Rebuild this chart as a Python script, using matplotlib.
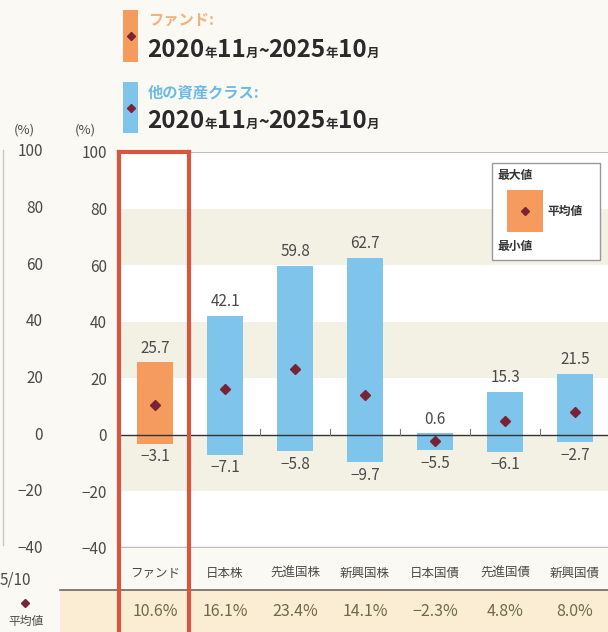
import matplotlib
matplotlib.use('Agg')
import matplotlib.pyplot as plt
import matplotlib.patches as mpatches
from matplotlib.lines import Line2D

plt.rcParams['font.family'] = ['Noto Sans CJK JP', 'DejaVu Sans']

categories = ['ファンド', '日本株', '先進国株', '新興国株', '日本国債', '先進国債', '新興国債']
max_vals   = [25.7, 42.1, 59.8, 62.7, 0.6, 15.3, 21.5]
min_vals   = [-3.1, -7.1, -5.8, -9.7, -5.5, -6.1, -2.7]
mean_vals  = [10.6, 16.1, 23.4, 14.1, -2.3, 4.8, 8.0]
yticks     = [100, 80, 60, 40, 20, 0, -20, -40]

BG     = '#fbf9f3'
BAND   = '#f3f0e4'
ORANGE = '#f59b5e'
BLUE   = '#7fc4ea'
DIAM   = '#7a2236'
RED    = '#d8553f'
TXT    = '#4a4a4a'
W, H = 608, 632

def fx(x): return x / W
def fy(y): return 1 - y / H

fig = plt.figure(figsize=(6.08, 6.32), dpi=100, facecolor=BG)
ax = fig.add_axes([fx(118), fy(548), fx(608) - fx(118), fy(152) - fy(548)])
ax.set_facecolor('white')
ax.set_xlim(-0.53, 6.47)
ax.set_ylim(-40, 100)

# alternating bands
for lo in (60, 20, -20):
    ax.axhspan(lo, lo + 20, color=BAND, lw=0, zorder=0)

x = list(range(len(categories)))
colors = [ORANGE] + [BLUE] * (len(categories) - 1)
heights = [mx - mn for mx, mn in zip(max_vals, min_vals)]
ax.bar(x, heights, bottom=min_vals, width=0.52, color=colors, lw=0, zorder=2)
ax.plot(x, mean_vals, ls='none', marker='D', ms=5, color=DIAM, zorder=4)

for xi, mx, mn in zip(x, max_vals, min_vals):
    ax.text(xi, mx + 2, f'{mx:.1f}', ha='center', va='bottom', fontsize=11, color=TXT, zorder=5)
    ax.text(xi, mn - 1.5, f'{mn:.1f}'.replace('-', '−'), ha='center', va='top', fontsize=11, color=TXT, zorder=5)

ax.axhline(0, color='#333333', lw=1, zorder=3)
ax.axhline(-40, color='#bdbdbd', lw=2.5, zorder=3)
ax.axhline(100, color='#bdbdbd', lw=1.5, zorder=3)
for xi in x[1:-1]:
    ax.plot([xi + 0.5, xi + 0.5], [0, 2], color='#777777', lw=0.8, zorder=3)

for s in ax.spines.values():
    s.set_visible(False)
ax.set_xticks([])
ax.set_yticks(yticks)
ax.set_yticklabels([str(t).replace('-', '−') for t in yticks], fontsize=11, color=TXT)
ax.tick_params(axis='y', length=0, pad=8)

# left partial axis (cropped)
for t in yticks:
    fig.text(fx(43), fy(152 + (100 - t) * 2.83), str(t).replace('-', '−'),
             ha='right', va='center', fontsize=11, color=TXT)
fig.text(fx(24), fy(130), '(%)', ha='center', va='center', fontsize=9.5, color=TXT)
fig.text(fx(85), fy(130), '(%)', ha='center', va='center', fontsize=9.5, color=TXT)
fig.add_artist(Line2D([fx(3), fx(3)], [fy(150), fy(545)], color='#c8c8c8', lw=1))
fig.text(fx(0), fy(580), '5/10', ha='left', va='center', fontsize=11, color=TXT)

# category labels and bottom table
cat_px = [155 + 70 * i for i in x]
for cx, c in zip(cat_px, categories):
    fig.text(fx(cx), fy(573), c, ha='center', va='center', fontsize=9, color=TXT)
fig.add_artist(mpatches.Rectangle((fx(60), 0), 1 - fx(60), fy(590), color='#fbedd3', lw=0))
fig.add_artist(Line2D([fx(60), 1], [fy(590), fy(590)], color='#6a6a6a', lw=1.2))
fig.add_artist(Line2D([fx(25)], [fy(603)], marker='D', ms=4, color=DIAM, ls='none'))
fig.text(fx(26), fy(621), '平均値', ha='center', va='center', fontsize=8.5, color=TXT)
for cx, m in zip(cat_px, mean_vals):
    fig.text(fx(cx), fy(612), f'{m:.1f}%'.replace('-', '−'), ha='center', va='center',
             fontsize=11.5, color='#6b6a48')

# red highlight box around fund column
rx0, rx1 = fx(119), fx(189)
for xx in (rx0, rx1):
    fig.add_artist(Line2D([xx, xx], [0, fy(152)], color=RED, lw=3, zorder=10))
fig.add_artist(Line2D([rx0, rx1], [fy(152), fy(152)], color=RED, lw=3, zorder=10))

# top legend
def seq_text(x0, y0, parts):
    r = fig.canvas.get_renderer()
    xpos = x0
    for s, size in parts:
        t = fig.text(fx(xpos), fy(y0), s, ha='left', va='baseline', fontsize=size,
                     fontweight='bold', color='#2a2a2a')
        bb = t.get_window_extent(renderer=r)
        xpos += bb.width

date_parts = [('2020', 17.5), ('年', 9), ('11', 17.5), ('月', 9), ('~', 13),
              ('2025', 17.5), ('年', 9), ('10', 17.5), ('月', 9)]
for top, bot, col, lab in ((10, 62, ORANGE, 'ファンド:'), (82, 133, BLUE, '他の資産クラス:')):
    fig.add_artist(mpatches.Rectangle((fx(123), fy(bot)), fx(138) - fx(123), fy(top) - fy(bot),
                                      color=col, lw=0))
    fig.add_artist(Line2D([fx(130.5)], [fy((top + bot) / 2)], marker='D', ms=4, color=DIAM, ls='none'))
    fig.text(fx(148), fy(top + 10), lab, ha='left', va='center', fontsize=11,
             fontweight='bold', color='#f4b07e' if col == ORANGE else '#6bbbe6')
    seq_text(147, bot - 5, date_parts)

# key box top right
fig.add_artist(mpatches.Rectangle((fx(492), fy(260)), fx(600) - fx(492), fy(163) - fy(260),
                                  facecolor='white', edgecolor='#999999', lw=1, zorder=6))
fig.add_artist(mpatches.Rectangle((fx(507), fy(232)), fx(543) - fx(507), fy(190) - fy(232),
                                  color=ORANGE, lw=0, zorder=7))
fig.add_artist(Line2D([fx(525)], [fy(211)], marker='D', ms=4, color=DIAM, ls='none', zorder=8))
fig.text(fx(497), fy(176), '最大値', ha='left', va='center', fontsize=8.5, fontweight='bold', color='#333333', zorder=8)
fig.text(fx(547), fy(211), '平均値', ha='left', va='center', fontsize=8.5, fontweight='bold', color='#333333', zorder=8)
fig.text(fx(497), fy(246), '最小値', ha='left', va='center', fontsize=8.5, fontweight='bold', color='#333333', zorder=8)

fig.savefig('out.png', dpi=100, facecolor=BG)
